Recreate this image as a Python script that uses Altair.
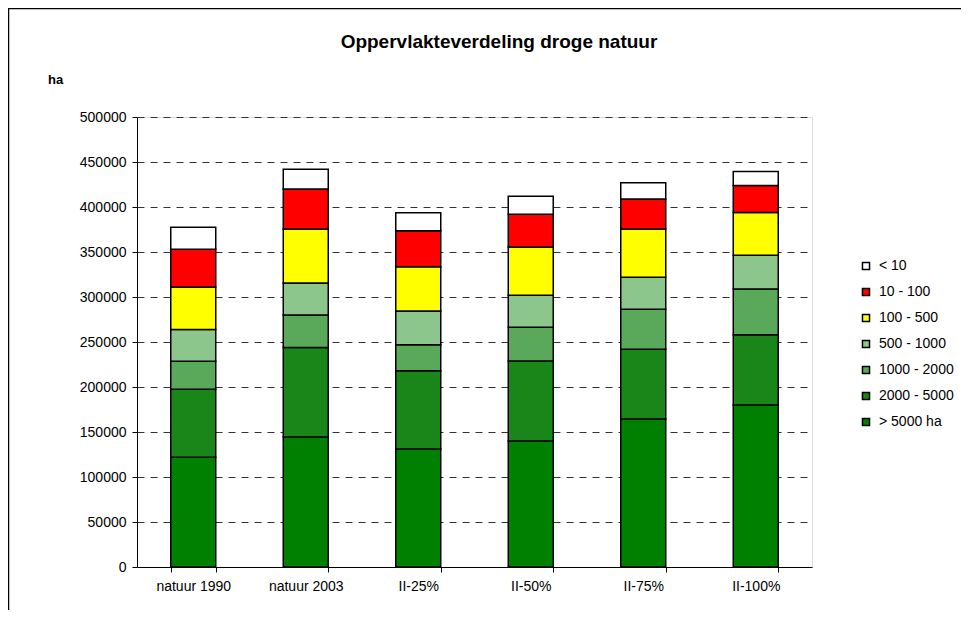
import altair as alt
import pandas as pd

categories = ["natuur 1990", "natuur 2003", "II-25%", "II-50%", "II-75%", "II-100%"]
classes = ["> 5000 ha", "2000 - 5000", "1000 - 2000", "500 - 1000", "100 - 500", "10 - 100", "< 10"]
values = {
    "> 5000 ha":   [122000, 144500, 131000, 140000, 164500, 180000],
    "2000 - 5000": [75500, 99500, 87000, 89000, 77500, 78000],
    "1000 - 2000": [31000, 36000, 29000, 37500, 44500, 51000],
    "500 - 1000":  [35500, 35500, 37500, 35500, 35500, 37500],
    "100 - 500":   [47000, 60000, 49000, 53500, 53500, 47500],
    "10 - 100":    [42000, 44500, 40000, 36500, 33500, 30000],
    "< 10":        [24500, 22000, 20000, 20000, 18000, 15500],
}
colors = {
    "< 10": "#ffffff",
    "10 - 100": "#ff0000",
    "100 - 500": "#ffff00",
    "500 - 1000": "#8cc68c",
    "1000 - 2000": "#5aa85a",
    "2000 - 5000": "#1a861a",
    "> 5000 ha": "#008000",
}
legend_order = ["< 10", "10 - 100", "100 - 500", "500 - 1000", "1000 - 2000", "2000 - 5000", "> 5000 ha"]
title_text = "Oppervlakteverdeling droge natuur"
unit_text = "ha"

rows = []
for ci, cls in enumerate(classes):
    for cat, v in zip(categories, values[cls]):
        rows.append({"cat": cat, "cls": cls, "ord": ci, "v": v})
df = pd.DataFrame(rows)

FONT = "Liberation Sans"

bars = alt.Chart(df).mark_bar(stroke="black", strokeWidth=1.5).encode(
    x=alt.X("cat:N", sort=categories, title=None,
            scale=alt.Scale(paddingInner=0.6, paddingOuter=0.3),
            axis=alt.Axis(labelAngle=0, tickBand="extent", domainColor="black",
                          tickColor="black", tickSize=5, labelFontSize=14,
                          labelFont=FONT, labelColor="black", labelPadding=7,
                          grid=False)),
    y=alt.Y("v:Q", stack="zero", title=None,
            scale=alt.Scale(domain=[0, 500000], nice=False),
            axis=alt.Axis(values=list(range(0, 500001, 50000)), format="d",
                          domainColor="black", tickColor="black", tickSize=5,
                          labelFontSize=14, labelFont=FONT, labelColor="black",
                          labelPadding=6, grid=True, gridColor="#333333",
                          gridDash=[7, 6], gridWidth=1)),
    color=alt.Color("cls:N", title=None,
                    scale=alt.Scale(domain=legend_order, range=[colors[c] for c in legend_order]),
                    legend=alt.Legend(orient="none", legendX=722, legendY=142,
                                      symbolType="square", symbolSize=50,
                                      symbolStrokeColor="black", symbolStrokeWidth=1.5,
                                      labelFontSize=14, labelFont=FONT, labelColor="black",
                                      rowPadding=12, labelOffset=6)),
    order=alt.Order("ord:Q", sort="ascending"),
)

ha = alt.Chart(alt.Data(values=[{"t": unit_text}])).mark_text(
    align="left", baseline="middle", fontWeight="bold", fontSize=13, font=FONT, color="black"
).encode(text="t:N", x=alt.value(-89), y=alt.value(-37))

title = alt.Chart(alt.Data(values=[{"t": title_text}])).mark_text(
    align="center", baseline="alphabetic", fontWeight="bold", fontSize=19, font=FONT, color="black"
).encode(text="t:N", x=alt.value(362), y=alt.value(-69))

frame = alt.Chart(alt.Data(values=[{}])).mark_rect(
    fill="transparent", stroke="black", strokeWidth=1.5
).encode(x=alt.value(-128.5), x2=alt.value(1000), y=alt.value(-108.5), y2=alt.value(700))

chart = alt.layer(bars, ha, title, frame).properties(
    width=675, height=450,
    padding={"left": 129, "top": 109, "right": 149, "bottom": 43},
    autosize=alt.AutoSizeParams(type="none"),
).configure_view(stroke="#808080", strokeWidth=2).configure(background="white")

chart.save("out.html", embed_options={"renderer": "svg", "actions": False})
